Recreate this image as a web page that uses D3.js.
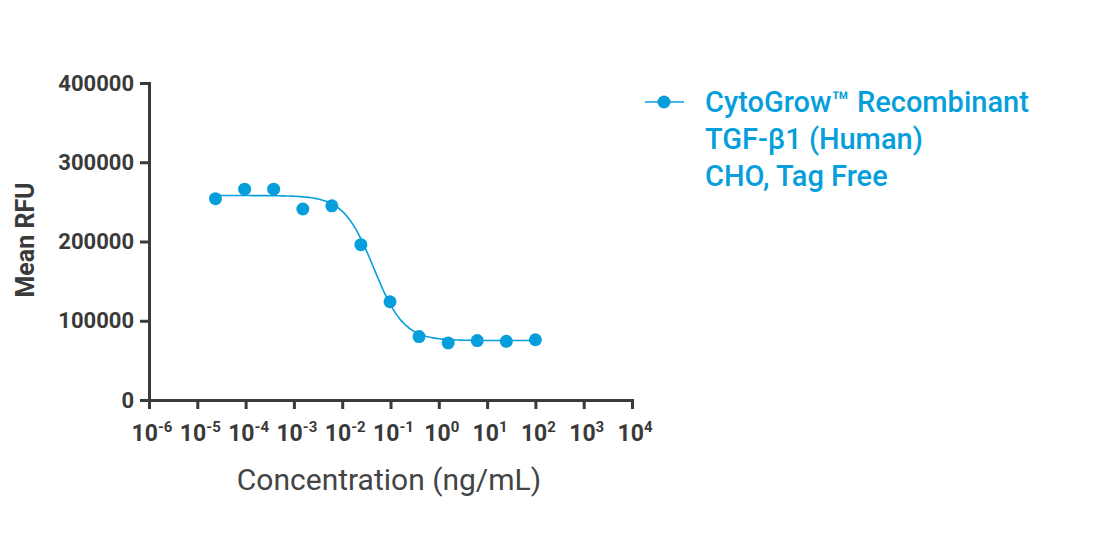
<!DOCTYPE html><html><head><meta charset="utf-8"><script src="https://d3js.org/d3.v7.min.js"></script>
<style>body{margin:0;background:#fff}text{font-family:Roboto,sans-serif}</style></head><body>
<svg id="c" width="1104" height="534"></svg>
<script>
const concentrations=[0.0000238,0.0000954,0.000381,0.00153,0.0061,0.0244,0.0977,0.39,1.5625,6.25,25,100];
const rfu=[254000,266000,266000,241000,245000,196000,124000,80000,72000,75000,74000,76000];
const fitParams=[258000,75000,0.045,1.4]; // top,bottom,EC50,hill
const yTicks=[0,100000,200000,300000,400000];
const xExps=[-6,-5,-4,-3,-2,-1,0,1,2,3,4];
const seriesName=["CytoGrow™ Recombinant","TGF-β1 (Human)","CHO, Tag Free"];
const blue="#069fdb",dark="#3a3a3a";
const svg=d3.select("#c");
const x=d3.scaleLog().domain([1e-6,1e4]).range([149,632]);
const y=d3.scaleLinear().domain([0,400000]).range([400,83]);
const gx=svg.append("g").attr("transform","translate(0,400)").call(d3.axisBottom(x).tickValues(xExps.map(e=>Math.pow(10,e))).tickFormat("").tickSize(9).tickSizeOuter(0));
const gy=svg.append("g").attr("transform","translate(149,0)").call(d3.axisLeft(y).tickValues(yTicks).tickFormat(d=>d).tickSize(9).tickSizeOuter(0));
[gx,gy].forEach(g=>{g.selectAll("path,line").attr("stroke",dark).attr("stroke-width",3);g.select(".domain").attr("stroke-linecap","square");});
gy.selectAll("text").attr("font-size",22).attr("font-weight","bold").attr("fill",dark).attr("font-family","Roboto").attr("x",-15);
xExps.forEach(e=>{const t=svg.append("text").attr("x",x(Math.pow(10,e))+3).attr("y",441).attr("text-anchor","middle").attr("font-size",23).attr("font-weight","bold").attr("fill",dark);
t.append("tspan").text("10");t.append("tspan").attr("dy",-9).attr("font-size",15).text(e);});
svg.append("text").attr("transform","translate(34,240) rotate(-90)").attr("text-anchor","middle").attr("font-size",25).attr("font-weight","bold").attr("fill",dark).text("Mean RFU");
svg.append("text").attr("x",389).attr("y",490).attr("text-anchor","middle").attr("font-size",30).attr("fill","#444").text("Concentration (ng/mL)");
const [top_,bot,ec,h]=fitParams;
const xs=d3.range(0,201).map(i=>Math.pow(10,Math.log10(concentrations[0])+i/200*(Math.log10(100)-Math.log10(concentrations[0]))));
svg.append("path").datum(xs).attr("fill","none").attr("stroke",blue).attr("stroke-width",1.6)
 .attr("d",d3.line().x(d=>x(d)).y(d=>y(bot+(top_-bot)/(1+Math.pow(d/ec,h)))));
svg.selectAll("circle.p").data(concentrations).join("circle").attr("cx",d=>x(d)).attr("cy",(d,i)=>y(rfu[i])).attr("r",6.5).attr("fill",blue);
svg.append("line").attr("x1",645).attr("x2",684).attr("y1",102).attr("y2",102).attr("stroke",blue).attr("stroke-width",1.6);
svg.append("circle").attr("cx",664).attr("cy",102).attr("r",6.5).attr("fill",blue);
seriesName.forEach((s,i)=>svg.append("text").attr("x",705).attr("y",112+i*37).attr("font-size",29).attr("font-weight",500).attr("fill",blue).text(s));
</script></body></html>
